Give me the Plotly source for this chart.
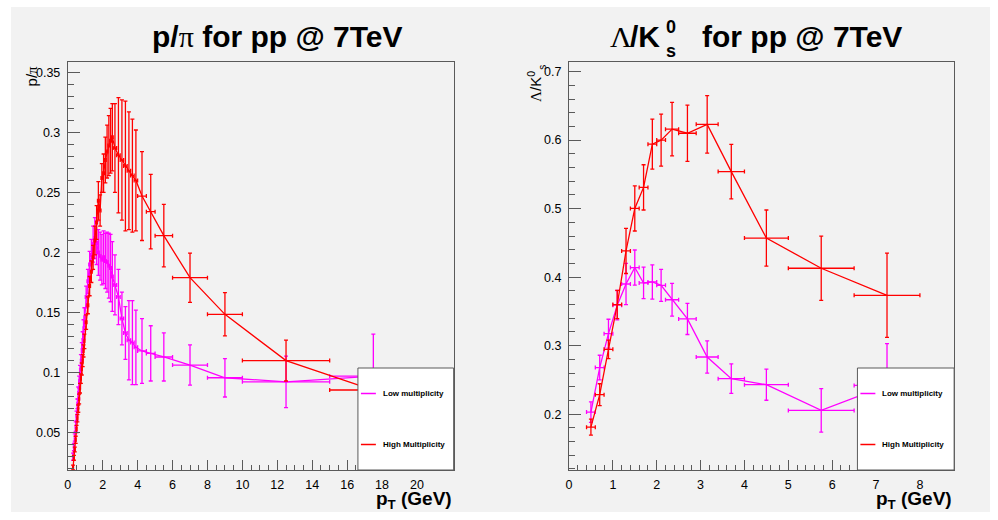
import plotly.graph_objects as go

# ---------------- p/pi ratio, pp @ 7 TeV ----------------
ppi_pt = [0.30, 0.35, 0.40, 0.45, 0.50, 0.55, 0.60, 0.65, 0.70, 0.75, 0.80, 0.85, 0.90, 0.95,
          1.05, 1.15, 1.25, 1.35, 1.45, 1.55, 1.65, 1.75, 1.85, 1.95,
          2.05, 2.15, 2.25, 2.35, 2.45, 2.55,
          2.7, 2.9, 3.1, 3.3, 3.5, 3.7, 3.9,
          4.25, 4.75, 5.5, 7.0, 9.0, 12.5, 17.5]
ppi_dpt = [0.025] * 14 + [0.05] * 16 + [0.1] * 7 + [0.25, 0.25, 0.5, 1.0, 1.0, 2.5, 2.5]

ppi_low = [0.030, 0.038, 0.046, 0.055, 0.064, 0.074, 0.083, 0.092, 0.100, 0.109, 0.118, 0.127, 0.136, 0.146,
           0.163, 0.176, 0.190, 0.198, 0.207, 0.212, 0.208, 0.200, 0.197, 0.194,
           0.196, 0.193, 0.192, 0.189, 0.187, 0.180,
           0.173, 0.163, 0.145, 0.133, 0.127, 0.125, 0.121,
           0.118, 0.116, 0.113, 0.1063, 0.0957, 0.0923, 0.097]
ppi_low_err = [0.003, 0.003, 0.003, 0.004, 0.004, 0.004, 0.005, 0.005, 0.006, 0.006, 0.007, 0.007, 0.008, 0.008,
               0.009, 0.010, 0.011, 0.013, 0.015, 0.017, 0.018, 0.019, 0.020, 0.021,
               0.022, 0.023, 0.025, 0.027, 0.028, 0.029,
               0.025, 0.023, 0.022, 0.022, 0.033, 0.035, 0.031,
               0.027, 0.023, 0.020, 0.0167, 0.016, 0.0214, 0.035]

ppi_high = [0.021, 0.029, 0.036, 0.044, 0.053, 0.062, 0.070, 0.078, 0.087, 0.095, 0.103, 0.110, 0.118, 0.126,
            0.142, 0.156, 0.172, 0.184, 0.196, 0.210, 0.225, 0.243, 0.235, 0.262,
            0.266, 0.277, 0.284, 0.289, 0.293, 0.296,
            0.287, 0.281, 0.277, 0.272, 0.268, 0.264, 0.260,
            0.247, 0.234, 0.214, 0.179, 0.1485, 0.110, 0.0855]
ppi_high_err = [0.002, 0.002, 0.002, 0.003, 0.003, 0.003, 0.003, 0.004, 0.004, 0.004, 0.005, 0.005, 0.005, 0.006,
                0.006, 0.007, 0.008, 0.009, 0.010, 0.012, 0.014, 0.016, 0.013, 0.012,
                0.016, 0.019, 0.022, 0.025, 0.027, 0.028,
                0.037, 0.048, 0.050, 0.054, 0.049, 0.047, 0.042,
                0.037, 0.031, 0.026, 0.0205, 0.018, 0.017, 0.010]

# ---------------- Lambda/K0s ratio, pp @ 7 TeV ----------------
lk_pt = [0.5, 0.7, 0.9, 1.1, 1.3, 1.5, 1.7, 1.9, 2.1, 2.35, 2.7, 3.15, 3.7, 4.5, 5.75, 7.25]
lk_dpt = [0.1] * 9 + [0.15, 0.2, 0.25, 0.3, 0.5, 0.75, 0.75]

lk_low = [0.203, 0.268, 0.3175, 0.359, 0.390, 0.414, 0.3915, 0.393, 0.388, 0.367, 0.339, 0.2834,
          0.2518, 0.243, 0.2055, 0.242]
lk_low_err = [0.015, 0.018, 0.021, 0.0215, 0.030, 0.0256, 0.023, 0.025, 0.0234, 0.024, 0.0227, 0.0236,
              0.0215, 0.0227, 0.0317, 0.061]

lk_high = [0.181, 0.2284, 0.2946, 0.360, 0.4383, 0.5003, 0.531, 0.594, 0.600, 0.616, 0.610, 0.623,
           0.554, 0.457, 0.413, 0.3735]
lk_high_err = [0.0117, 0.016, 0.0134, 0.0207, 0.033, 0.033, 0.033, 0.0365, 0.038, 0.039, 0.041, 0.042,
               0.0397, 0.041, 0.047, 0.0615]

legend_labels = ["Low multiplicity", "High Multiplicity"]
LOW_COLOR = "#ff00ff"
HIGH_COLOR = "#ff0000"

W, H = 998, 520
FONT = "Liberation Sans"
SERIF = "Liberation Serif"
FRAME = "#5a5a5a"
CANVAS = "#f2f2f2"


def fx(x):
    return x / W


def fy(y):
    return 1 - y / H


def greek(ch):
    # Greek letters are set in a light serif face, as in a symbol font
    return f'<span style="font-family:{SERIF};font-weight:normal">{ch}</span>'


def series(x, dx, y, dy, color, xa, ya):
    return go.Scatter(
        x=x, y=y, mode="lines", xaxis=xa, yaxis=ya, showlegend=False,
        line=dict(color=color, width=1.3),
        error_x=dict(type="data", array=dx, color=color, thickness=1.3, width=2),
        error_y=dict(type="data", array=dy, color=color, thickness=1.3, width=2),
        hoverinfo="skip",
    )


fig = go.Figure()
fig.add_trace(series(ppi_pt, ppi_dpt, ppi_low, ppi_low_err, LOW_COLOR, "x", "y"))
fig.add_trace(series(ppi_pt, ppi_dpt, ppi_high, ppi_high_err, HIGH_COLOR, "x", "y"))
fig.add_trace(series(lk_pt, lk_dpt, lk_low, lk_low_err, LOW_COLOR, "x2", "y2"))
fig.add_trace(series(lk_pt, lk_dpt, lk_high, lk_high_err, HIGH_COLOR, "x2", "y2"))

tick_font = dict(family=FONT, size=12.5, color="black")
ydom = [fy(470), fy(62)]


def xaxis(dom, rng, vals, minor_dt):
    return dict(domain=dom, range=rng, tickmode="array", tickvals=vals,
                ticktext=[str(v) for v in vals],
                ticks="inside", ticklen=10, tickwidth=1, tickcolor=FRAME,
                minor=dict(dtick=minor_dt, tick0=0, ticks="inside", ticklen=5, tickcolor=FRAME),
                showline=True, linecolor=FRAME, linewidth=1, mirror=True,
                showgrid=False, zeroline=False, tickfont=tick_font,
                ticklabelstandoff=3, fixedrange=True)


def yaxis(anchor, rng, dt, minor_dt):
    return dict(domain=ydom, range=rng, anchor=anchor, dtick=dt, tick0=0,
                ticks="inside", ticklen=12, tickwidth=1, tickcolor=FRAME,
                minor=dict(dtick=minor_dt, tick0=0, ticks="inside", ticklen=6, tickcolor=FRAME),
                showline=True, linecolor=FRAME, linewidth=1, mirror=True,
                showgrid=False, zeroline=False, tickfont=tick_font,
                ticklabelstandoff=4, fixedrange=True)


fig.update_layout(
    width=W, height=H, margin=dict(l=0, r=0, t=0, b=0),
    paper_bgcolor="white", plot_bgcolor="rgba(0,0,0,0)",
    xaxis=xaxis([fx(65), fx(452)], [0, 22.1], list(range(0, 21, 2)), 0.5),
    yaxis=yaxis("x", [0.0189, 0.3586], 0.05, 0.01),
    xaxis2=xaxis([fx(567.7), fx(954)], [0, 8.78], list(range(0, 9)), 0.2),
    yaxis2=yaxis("x2", [0.1185, 0.714], 0.1, 0.02),
)
fig.layout.xaxis2.anchor = "y2"
fig.layout.xaxis.anchor = "y"

shapes = [
    dict(type="rect", xref="paper", yref="paper", x0=fx(8), x1=fx(990), y0=fy(512), y1=fy(7),
         fillcolor=CANVAS, line=dict(width=0), layer="below"),
]
annotations = []


def note(text, x, y, xanchor, yanchor, font, angle=0):
    annotations.append(dict(text=text, x=fx(x), y=fy(y), xref="paper", yref="paper",
                            xanchor=xanchor, yanchor=yanchor, showarrow=False,
                            textangle=angle, font=font))


# legends, one per pad
leg_font = dict(family=FONT, size=8, color="black", weight="bold")
for x0, x1 in [(356, 452), (857, 954)]:
    shapes.append(dict(type="rect", xref="paper", yref="paper", x0=fx(x0), x1=fx(x1),
                       y0=fy(470), y1=fy(368), fillcolor="white",
                       line=dict(color=FRAME, width=1), layer="above"))
    for label, color, yy in [(legend_labels[0], LOW_COLOR, 393.5), (legend_labels[1], HIGH_COLOR, 444.5)]:
        shapes.append(dict(type="line", xref="paper", yref="paper", x0=fx(x0 + 3), x1=fx(x0 + 18),
                           y0=fy(yy), y1=fy(yy), line=dict(color=color, width=1.5), layer="above"))
        note(label, x0 + 23, yy, "left", "middle", leg_font)

# pad titles
title_font = dict(family=FONT, size=30, color="black", weight="bold")
small_bold = dict(family=FONT, size=18, color="black", weight="bold")
note(f"p/{greek('π')} for pp @ 7TeV", 275, 37, "center", "middle", title_font)
note(greek("Λ"), 620, 37, "center", "middle", title_font)
note("/K", 627, 37, "left", "middle", title_font)
note("0", 663, 27, "left", "middle", small_bold)
note("s", 663, 51, "left", "middle", small_bold)
note("for pp @ 7TeV", 699, 37, "left", "middle", title_font)

# axis titles
xt_font = dict(family=FONT, size=19, color="black", weight="bold")
for xr in (452, 954):
    note("p<sub>T</sub> (GeV)", xr, 500, "right", "middle", xt_font)
yt_font = dict(family=FONT, size=15, color="black")
note(f"p/{greek('π')}", 29, 63, "center", "top", yt_font, -90)
note(f"{greek('Λ')}/K<sup>0</sup>", 533, 69, "center", "top", yt_font, -90)
note("s", 541, 63, "center", "top", dict(family=FONT, size=10, color="black"), -90)

fig.update_layout(shapes=shapes, annotations=annotations)
fig.write_html("out.html")
